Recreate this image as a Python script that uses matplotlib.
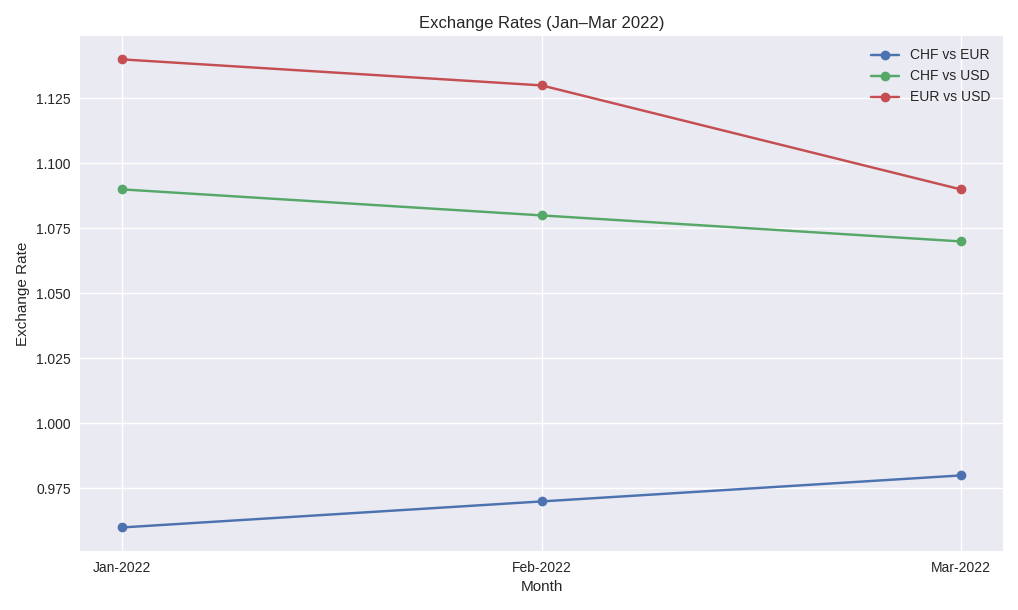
import matplotlib
matplotlib.use("Agg")
import matplotlib.pyplot as plt

months = ["Jan-2022", "Feb-2022", "Mar-2022"]
chf_eur = [0.96, 0.97, 0.98]
chf_usd = [1.09, 1.08, 1.07]
eur_usd = [1.14, 1.13, 1.09]

plt.style.use("seaborn-v0_8")
plt.rcParams['font.family'] = ['Liberation Sans', 'DejaVu Sans']

fig, ax = plt.subplots(figsize=(10.18, 6.10), dpi=100)
ax.plot(months, chf_eur, marker='o', label="CHF vs EUR")
ax.plot(months, chf_usd, marker='o', label="CHF vs USD")
ax.plot(months, eur_usd, marker='o', label="EUR vs USD")

ax.set_title("Exchange Rates (Jan\u2013Mar 2022)")
ax.set_xlabel("Month")
ax.set_ylabel("Exchange Rate")
ax.legend()

fig.subplots_adjust(left=0.079, right=0.985, top=0.941, bottom=0.097)
fig.savefig("out.png", dpi=100)
